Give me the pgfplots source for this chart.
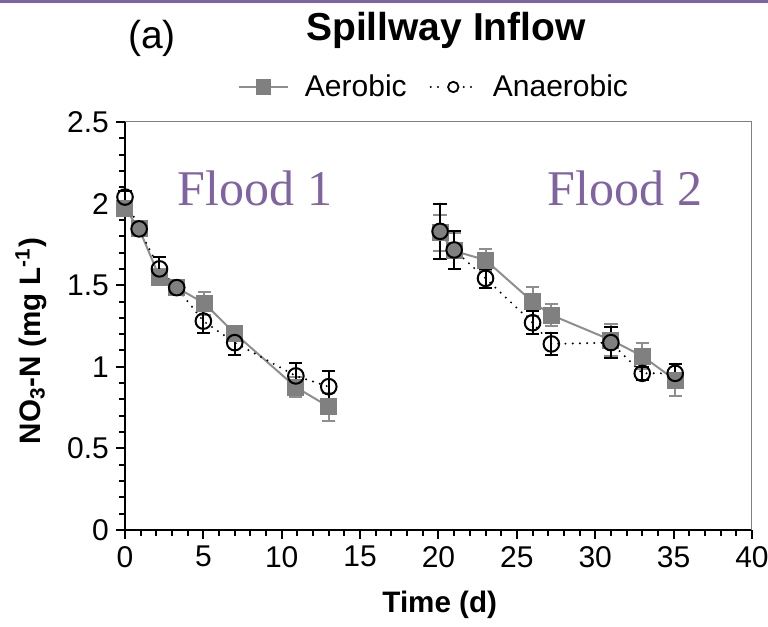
\documentclass[border=0pt]{standalone}
\usepackage{fontspec}
\setmainfont{Liberation Sans}
\newfontfamily\floodfont{Liberation Serif}
\usepackage{pgfplots}
\usepackage{pgfplotstable}
\pgfplotsset{compat=1.18}
\definecolor{floodpurple}{HTML}{8064A2}
\definecolor{aergray}{HTML}{808080}
\definecolor{aerline}{HTML}{8E8E8E}

\pgfplotstableread{
x y e
0 1.97 0.04
0.9 1.845 0.03
2.2 1.55 0.05
3.3 1.485 0.03
5.05 1.39 0.07
7.0 1.205 0.03
10.9 0.875 0.06
13.0 0.755 0.085
}\aerA
\pgfplotstableread{
x y e
20.1 1.82 0.11
21.0 1.71 0.11
23.0 1.654 0.07
26.0 1.399 0.09
27.2 1.317 0.07
31.0 1.164 0.10
33.0 1.066 0.08
35.1 0.919 0.10
}\aerB
\pgfplotstableread{
x y e
0 2.04 0.04
0.9 1.845 0.03
2.2 1.60 0.07
3.3 1.485 0.03
5.0 1.28 0.07
7.0 1.148 0.075
10.9 0.944 0.08
13.0 0.878 0.095
}\anaA
\pgfplotstableread{
x y e
20.1 1.83 0.17
21.0 1.716 0.115
23.0 1.542 0.06
26.0 1.27 0.07
27.2 1.14 0.07
31.0 1.148 0.095
33.0 0.96 0.04
35.1 0.96 0.06
}\anaB

\begin{document}
\begin{tikzpicture}
\path[use as bounding box] (-62.5pt,-48.5pt) rectangle (321.5pt,265pt);
\draw[floodpurple, line width=1.5pt] (-62.5pt,264.25pt) -- (321.5pt,264.25pt);
\begin{axis}[
  scale only axis, width=313.5pt, height=204pt,
  xmin=0, xmax=40, ymin=0, ymax=2.5,
  axis lines*=left,
  axis line style={-, line width=1pt, black},
  xtick={0,5,...,40}, ytick={0,0.5,1,1.5,2,2.5},
  minor xtick={0,1,...,40},
  minor ytick={0.1,0.2,0.3,0.4,0.6,0.7,0.8,0.9,1.1,1.2,1.3,1.4,1.6,1.7,1.8,1.9,2.1,2.2,2.3,2.4},
  xminorticks=true, yminorticks=true,
  tick align=outside,
  major tick length=4.5pt, minor tick length=3pt,
  tick style={black, line width=1pt},
  minor tick style={black, line width=1pt},
  /pgf/number format/assume math mode=true,
  ticklabel style={font=\fontsize{15}{15}\selectfont},
  xlabel={\textbf{Time (d)}},
  ylabel={\textbf{NO\textsubscript{3}-N (mg L\textsuperscript{-1})}},
  label style={font=\fontsize{14.8}{14.8}\selectfont},
  xlabel style={at={(axis description cs:0.502,-0.1838)}, anchor=center},
  ylabel style={at={(axis description cs:-0.15,0.463)}, anchor=center},
  clip=false,
  legend columns=2,
  legend style={draw=none, fill=none, at={(axis description cs:0.4944,1.0858)}, anchor=center,
    font=\fontsize{15}{15}\selectfont, inner sep=0pt,
    /tikz/every odd column/.append style={column sep=6pt},
    /tikz/every even column/.append style={column sep=9.5pt}},
]
\addlegendimage{legend image code/.code={
  \draw[aerline, line width=1pt] (0pt,0pt) -- (24.5pt,0pt);
  \fill[aergray] (8.75pt,-3.75pt) rectangle (15.75pt,3.75pt);}}
\addlegendentry{Aerobic}
\addlegendimage{legend image code/.code={
  \draw[black, line width=1.1pt, line cap=round, dash pattern=on 0pt off 3.6pt] (0pt,0pt) -- (6pt,0pt);
  \draw[black, line width=1.1pt, line cap=round, dash pattern=on 0pt off 3.6pt] (16.5pt,0pt) -- (22.5pt,0pt);
  \draw[black, line width=0.9pt] (11.25pt,0pt) circle (2.6pt);}}
\addlegendentry{Anaerobic}

\pgfplotsset{
  aer/.style={aerline, line width=1pt, mark=square*, mark size=3.75pt,
    mark options={solid, fill=aergray, draw=aergray},
    error bars/.cd, y dir=both, y explicit,
    error bar style={aerline, line width=1pt},
    error mark options={aerline, line width=1pt, mark size=3.3pt, rotate=90}},
  ana/.style={black, line width=1.1pt, line cap=round, dash pattern=on 0pt off 3.6pt,
    mark=o, mark size=3.9pt,
    mark options={solid, black, line width=1pt, fill=none},
    error bars/.cd, y dir=both, y explicit,
    error bar style={black, solid, line width=1pt},
    error mark options={black, solid, line width=1pt, mark size=3.3pt, rotate=90}},
}
\addplot[forget plot, aer] table[x=x, y=y, y error=e] {\aerA};
\addplot[forget plot, aer] table[x=x, y=y, y error=e] {\aerB};
\addplot[forget plot, ana] table[x=x, y=y, y error=e] {\anaA};
\addplot[forget plot, ana] table[x=x, y=y, y error=e] {\anaB};

\draw[gray, line width=0.5pt] (rel axis cs:0,1) -- (rel axis cs:1,1) -- (rel axis cs:1,0);

\node[font=\floodfont\fontsize{25}{25}\selectfont, text=floodpurple] at (axis cs:8.3,2.096) {Flood 1};
\node[font=\floodfont\fontsize{25}{25}\selectfont, text=floodpurple] at (axis cs:31.9,2.096) {Flood 2};
\node[font=\bfseries\fontsize{19.5}{19.5}\selectfont] at (axis description cs:0.512,1.2255) {Spillway Inflow};
\node[font=\fontsize{19.5}{19.5}\selectfont] at (axis description cs:0.043,1.206) {(a)};
\end{axis}
\end{tikzpicture}
\end{document}
